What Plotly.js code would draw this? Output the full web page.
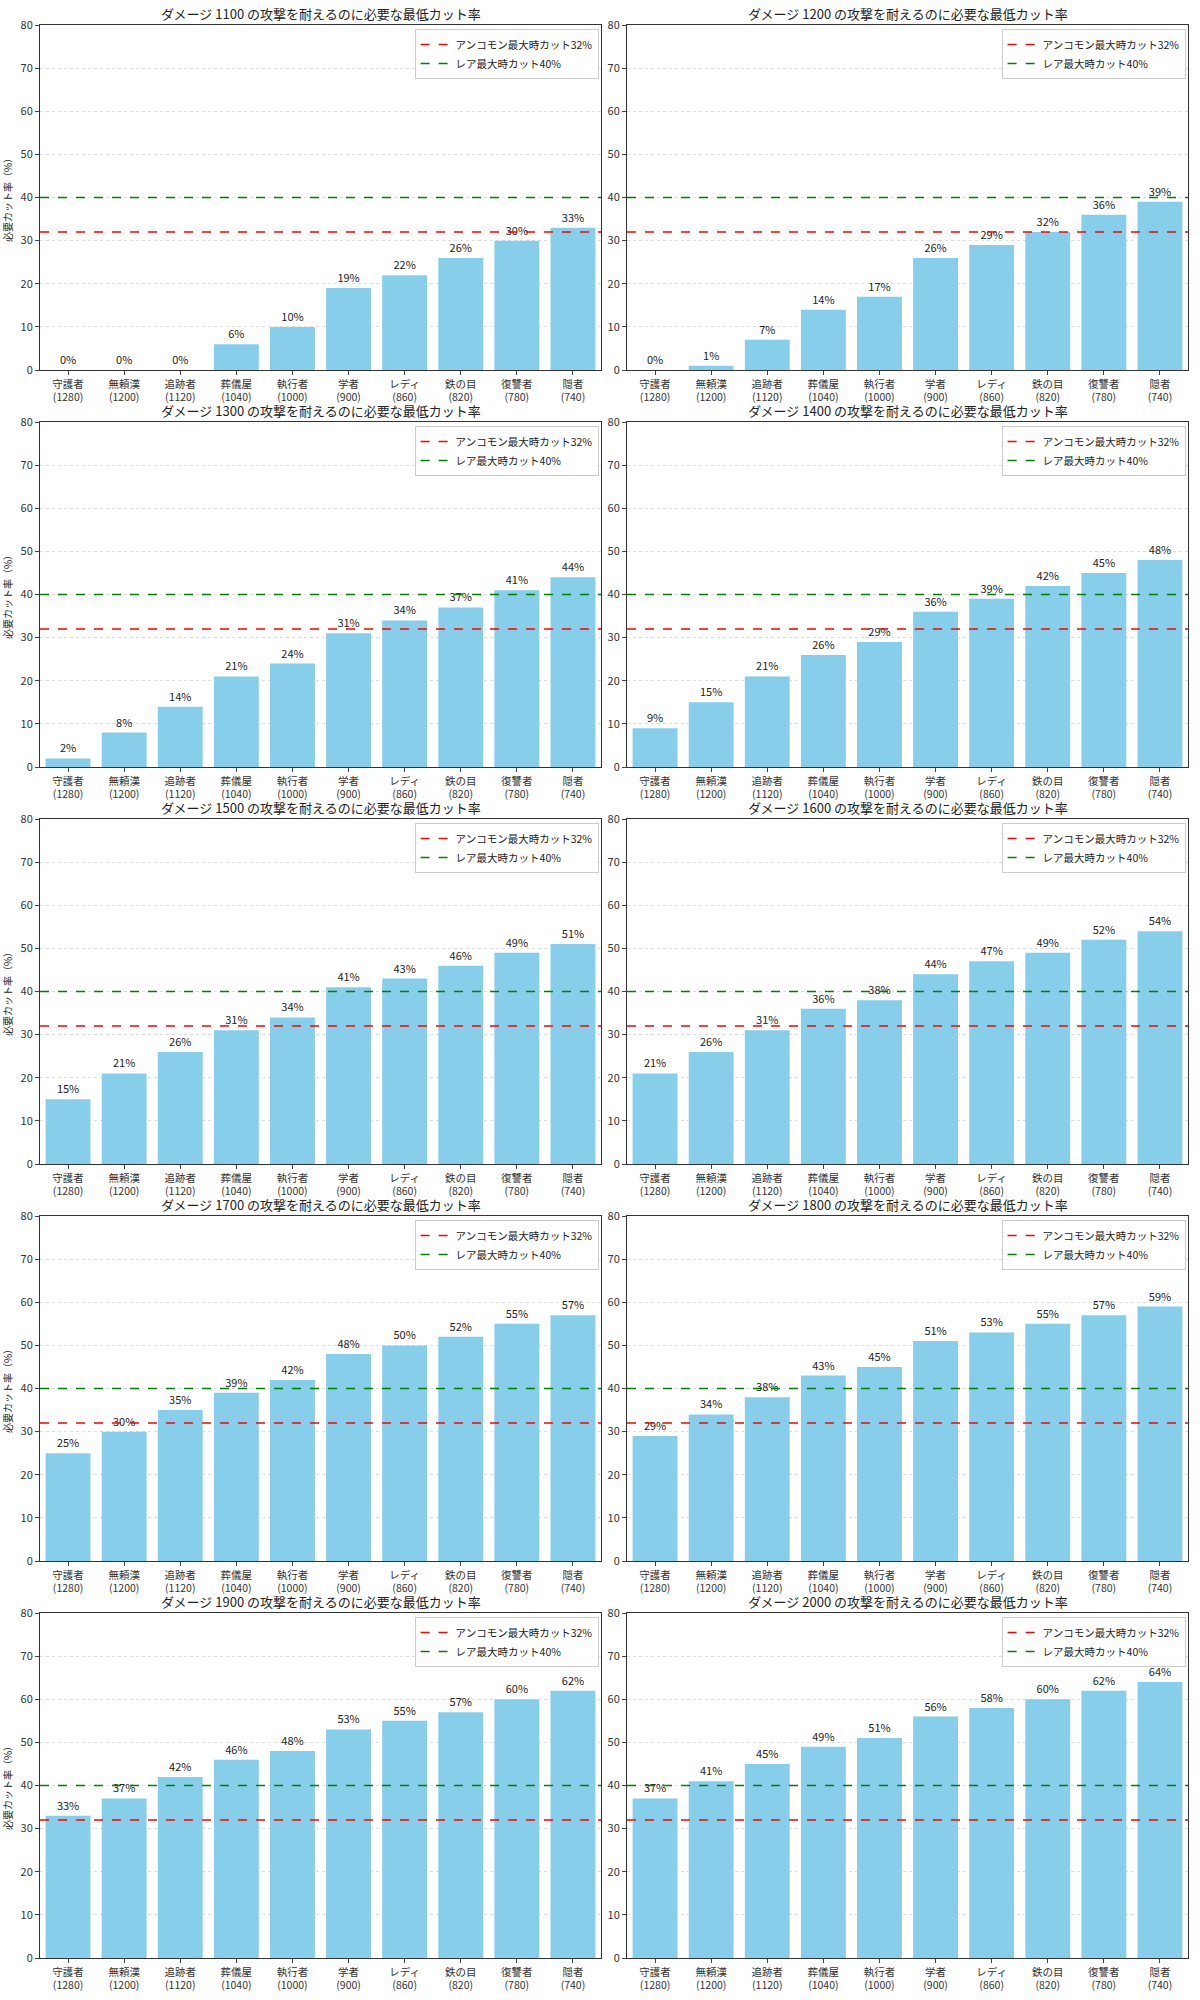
<!DOCTYPE html>
<html><head><meta charset="utf-8">
<script src="https://cdn.plot.ly/plotly-3.0.1.min.js"></script>
<style>body{margin:0}#c{width:1200px;height:2000px}</style></head>
<body><div id="c"></div>
<script>
const categories = ['守護者<br>(1280)','無頼漢<br>(1200)','追跡者<br>(1120)','葬儀屋<br>(1040)','執行者<br>(1000)','学者<br>(900)','レディ<br>(860)','鉄の目<br>(820)','復讐者<br>(780)','隠者<br>(740)'];
const damages = [1100,1200,1300,1400,1500,1600,1700,1800,1900,2000];
const cut1100 = [0,0,0,6,10,19,22,26,30,33];
const cut1200 = [0,1,7,14,17,26,29,32,36,39];
const cut1300 = [2,8,14,21,24,31,34,37,41,44];
const cut1400 = [9,15,21,26,29,36,39,42,45,48];
const cut1500 = [15,21,26,31,34,41,43,46,49,51];
const cut1600 = [21,26,31,36,38,44,47,49,52,54];
const cut1700 = [25,30,35,39,42,48,50,52,55,57];
const cut1800 = [29,34,38,43,45,51,53,55,57,59];
const cut1900 = [33,37,42,46,48,53,55,57,60,62];
const cut2000 = [37,41,45,49,51,56,58,60,62,64];
const cuts = [cut1100,cut1200,cut1300,cut1400,cut1500,cut1600,cut1700,cut1800,cut1900,cut2000];
const uncommonCut = 32, rareCut = 40;

const W = 1200, H = 2000;
const font = {family: '"Noto Sans CJK JP", "DejaVu Sans", sans-serif', size: 11, color: '#222'};
let data = [], shapes = [], annotations = [];
let layout = {width: W, height: H, margin: {l:0,r:0,t:0,b:0}, showlegend: true,
  paper_bgcolor: 'white', plot_bgcolor: 'white', font: font, bargap: 0.2};

damages.forEach((d, i) => {
  const col = i % 2, row = Math.floor(i / 2);
  const x0 = col ? 627 : 40, x1 = col ? 1188 : 601;
  const yTop = 25 + row * 397, yBot = yTop + 345;
  const n = i + 1, sx = n === 1 ? '' : n;
  const xa = 'x' + sx, ya = 'y' + sx, lg = 'legend' + sx;
  data.push({type: 'bar', x: categories, y: cuts[i], xaxis: xa, yaxis: ya,
    marker: {color: '#87CEEB'}, text: cuts[i].map(v => v + '%'),
    textposition: 'outside', cliponaxis: false, textfont: {size: 11, color: '#222'},
    showlegend: false, hoverinfo: 'x+y'});
  data.push({type: 'scatter', mode: 'lines', x: [null], y: [null], xaxis: xa, yaxis: ya,
    name: `アンコモン最大時カット${uncommonCut}%`, line: {color: 'red', dash: 'dash', width: 1.5}, legend: lg});
  data.push({type: 'scatter', mode: 'lines', x: [null], y: [null], xaxis: xa, yaxis: ya,
    name: `レア最大時カット${rareCut}%`, line: {color: 'green', dash: 'dash', width: 1.5}, legend: lg});
  [[uncommonCut,'red'],[rareCut,'green']].forEach(([v,c]) => shapes.push({type:'line', xref: xa + ' domain', yref: ya,
    x0: 0, x1: 1, y0: v, y1: v, line: {color: c, dash: 'dash', width: 1.5}}));
  layout['xaxis' + sx] = {domain: [x0/W, x1/W], anchor: ya, type: 'category',
    showline: true, mirror: true, linecolor: '#333', linewidth: 1, ticks: 'outside', ticklen: 4,
    tickfont: {size: 10.5, color: '#333'}, fixedrange: true};
  layout['yaxis' + sx] = {domain: [1 - yBot/H, 1 - yTop/H], anchor: xa, range: [0, 80], dtick: 10,
    showline: true, mirror: true, linecolor: '#333', linewidth: 1, ticks: 'outside', ticklen: 4,
    gridcolor: '#ddd', griddash: 'dot', zeroline: false, tickfont: {size: 11, color: '#333'},
    title: col ? undefined : {text: '必要カット率（%）', font: {size: 10}, standoff: 6}};
  layout[lg] = {x: x1/W - 0.002, y: 1 - yTop/H - 0.002, xanchor: 'right', yanchor: 'top',
    bgcolor: 'rgba(255,255,255,0.85)', bordercolor: '#ccc', borderwidth: 1, font: {size: 10.5}};
  annotations.push({text: `ダメージ ${d} の攻撃を耐えるのに必要な最低カット率`, xref: 'paper', yref: 'paper',
    x: (x0 + x1) / 2 / W, y: 1 - yTop/H, xanchor: 'center', yanchor: 'bottom', showarrow: false,
    font: {size: 13, color: '#222'}});
});
layout.shapes = shapes;
layout.annotations = annotations;
Plotly.newPlot('c', data, layout, {displayModeBar: false});
</script></body></html>
